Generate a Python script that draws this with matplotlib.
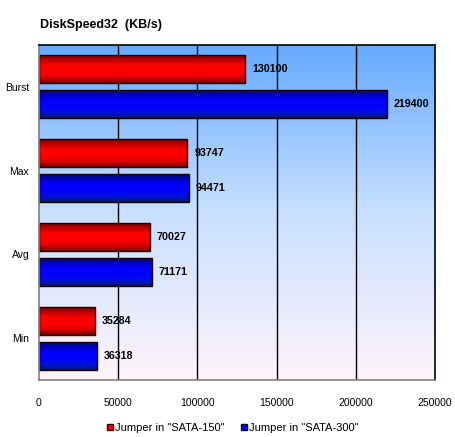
import matplotlib
matplotlib.use("Agg")
import matplotlib.pyplot as plt
import numpy as np
from matplotlib.colors import LinearSegmentedColormap
from matplotlib.lines import Line2D

categories = ["Burst", "Max", "Avg", "Min"]
sata150 = [130100, 93747, 70027, 35284]
sata300 = [219400, 94471, 71171, 36318]
series_names = ['Jumper in "SATA-150"', 'Jumper in "SATA-300"']
xticks = [0, 50000, 100000, 150000, 200000, 250000]

plt.rcParams['font.family'] = ['Liberation Sans', 'DejaVu Sans']

fig = plt.figure(figsize=(4.55, 4.37), dpi=100)
fig.patch.set_facecolor('white')
ax = fig.add_axes([39/455, 1-380/437, (435-39)/455, (380-45)/437])

# background gradient
bg = LinearSegmentedColormap.from_list('bg', ['#fff4fb', '#c8e0ff', '#66aaff'])
grad = np.linspace(0, 1, 256).reshape(-1, 1)
ax.imshow(grad, cmap=bg, aspect='auto', extent=[0, 1, 0, 1], origin='lower',
          transform=ax.transAxes, zorder=0)

red_cm = LinearSegmentedColormap.from_list('r', ['#7a0000', '#e00000', '#ff0000', '#ff0000', '#c00000', '#700000'])
blue_cm = LinearSegmentedColormap.from_list('b', ['#001a66', '#0010e0', '#0000ff', '#0000ff', '#0000c0', '#001060'])

n = len(categories)
ypos = np.arange(n)[::-1]
h = 0.335
off = 0.21

def draw_bars(vals, yc, cmap):
    bars = ax.barh(yc, vals, height=h, color='none', edgecolor='#1a0000', linewidth=1.0, zorder=3)
    for b in bars:
        x0, y0 = b.get_x(), b.get_y()
        w, hh = b.get_width(), b.get_height()
        im = ax.imshow(np.linspace(0, 1, 64).reshape(-1, 1), cmap=cmap, aspect='auto',
                       extent=[x0, x0 + w, y0, y0 + hh], origin='lower', zorder=2)
        im.set_clip_path(b)
    for v, y in zip(vals, yc):
        ax.annotate(f"{v}", xy=(v, y), xytext=(5, 0), textcoords='offset points',
                    va='center', ha='left', fontsize=7.7, fontweight='bold', zorder=5)
    return bars

draw_bars(sata150, ypos + off, red_cm)
draw_bars(sata300, ypos - off, blue_cm)

ax.set_xlim(0, 250000)
ax.set_ylim(-0.5, n - 0.5)
ax.set_xticks(xticks)
ax.set_xticklabels([str(t) for t in xticks], fontsize=7.5)
ax.set_yticks(ypos)
ax.set_yticklabels(categories, fontsize=7.5)
ax.tick_params(axis='x', length=0, pad=13)
ax.tick_params(axis='y', length=0, pad=7)
for t in xticks[1:-1]:
    ax.axvline(t, color='black', lw=1.0, zorder=1.5)
for s in ['top', 'right']:
    ax.spines[s].set_color('black')
    ax.spines[s].set_linewidth(1.2)
for s in ['left', 'bottom']:
    ax.spines[s].set_color('#808080')
    ax.spines[s].set_linewidth(1.2)
for sp in ax.spines.values():
    sp.set_zorder(6)

fig.text(40/455, 1-25/437, "DiskSpeed32  (KB/s)", fontsize=9, fontweight='bold', va='center', ha='left')

handles = [Line2D([], [], marker='s', linestyle='none', markersize=5, markerfacecolor='#ff0000', markeredgecolor='#400000'),
           Line2D([], [], marker='s', linestyle='none', markersize=5, markerfacecolor='#0000ff', markeredgecolor='#000040')]
fig.legend(handles, series_names, loc='center', bbox_to_anchor=(232/455, 1-428/437), ncol=2,
           frameon=False, fontsize=8, handletextpad=0.05, columnspacing=1.4, handlelength=0.8)

fig.savefig("out.png", dpi=100, facecolor='white')
